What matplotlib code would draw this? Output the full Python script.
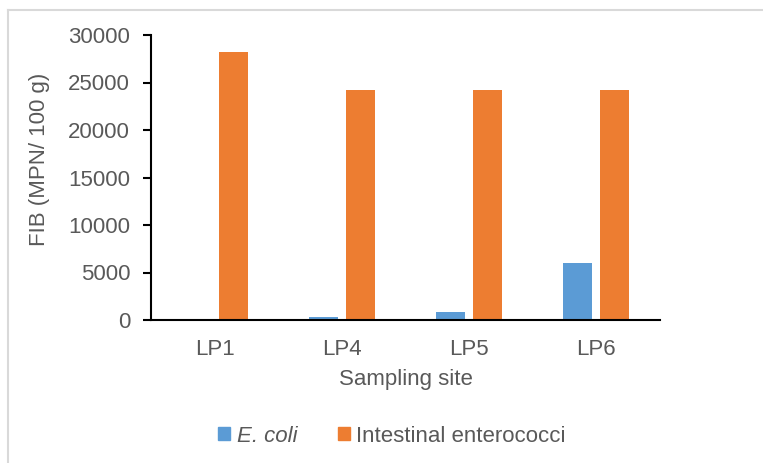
import matplotlib
matplotlib.use("Agg")
import matplotlib.pyplot as plt
import numpy as np
from matplotlib.lines import Line2D
from matplotlib.patches import Patch

sites = ["LP1", "LP4", "LP5", "LP6"]
ecoli = [10, 280, 840, 6030]
enterococci = [28200, 24196, 24196, 24196]
yticks = [0, 5000, 10000, 15000, 20000, 25000, 30000]

plt.rcParams['font.family'] = ['Liberation Sans', 'DejaVu Sans']
txt = '#595959'
fs = 16

fig = plt.figure(figsize=(7.63, 4.63), dpi=100)
ax = fig.add_axes([151/763, 1-320/463, (660-151)/763, (320-35)/463])

x = np.arange(len(sites))
w = 0.227
off = 0.145
ax.bar(x - off, ecoli, w, color='#5B9BD5', label='E. coli')
ax.bar(x + off, enterococci, w, color='#ED7D31', label='Intestinal enterococci')

ax.set_xlim(-0.5, len(sites) - 0.5)
ax.set_ylim(0, 30000)
ax.set_yticks(yticks)
ax.set_yticklabels([str(v) for v in yticks])
ax.set_xticks(x)
ax.set_xticklabels(sites)

for s in ['top', 'right']:
    ax.spines[s].set_visible(False)
for s in ['left', 'bottom']:
    ax.spines[s].set_linewidth(1.5)
    ax.spines[s].set_color('black')

ax.tick_params(axis='y', direction='out', length=6, width=1.5, color='black',
               labelsize=fs, labelcolor=txt, pad=9)
ax.tick_params(axis='x', length=0, labelsize=fs, labelcolor=txt, pad=14)

ax.set_ylabel('FIB (MPN/ 100 g)', fontsize=fs, color=txt)
ax.yaxis.set_label_coords(-0.198, 0.565)
ax.set_xlabel('Sampling site', fontsize=fs, color=txt, labelpad=6)

handles = [Patch(color='#5B9BD5'), Patch(color='#ED7D31')]
leg = fig.legend(handles, ['E. coli', 'Intestinal enterococci'], loc='center',
                 bbox_to_anchor=(392/763, 1-436/463), ncol=2, frameon=False,
                 fontsize=fs, handlelength=0.55, handleheight=0.55,
                 handletextpad=0.3, columnspacing=1.8)
for t in leg.get_texts():
    t.set_color(txt)
leg.get_texts()[0].set_fontstyle('italic')

fig.add_artist(Line2D([8/763, 8/763], [0, 1-10/463], transform=fig.transFigure,
                      color='#D9D9D9', lw=1.5))
fig.add_artist(Line2D([8/763, 1], [1-10/463, 1-10/463], transform=fig.transFigure,
                      color='#D9D9D9', lw=1.5))

fig.savefig('out.png', dpi=100)
